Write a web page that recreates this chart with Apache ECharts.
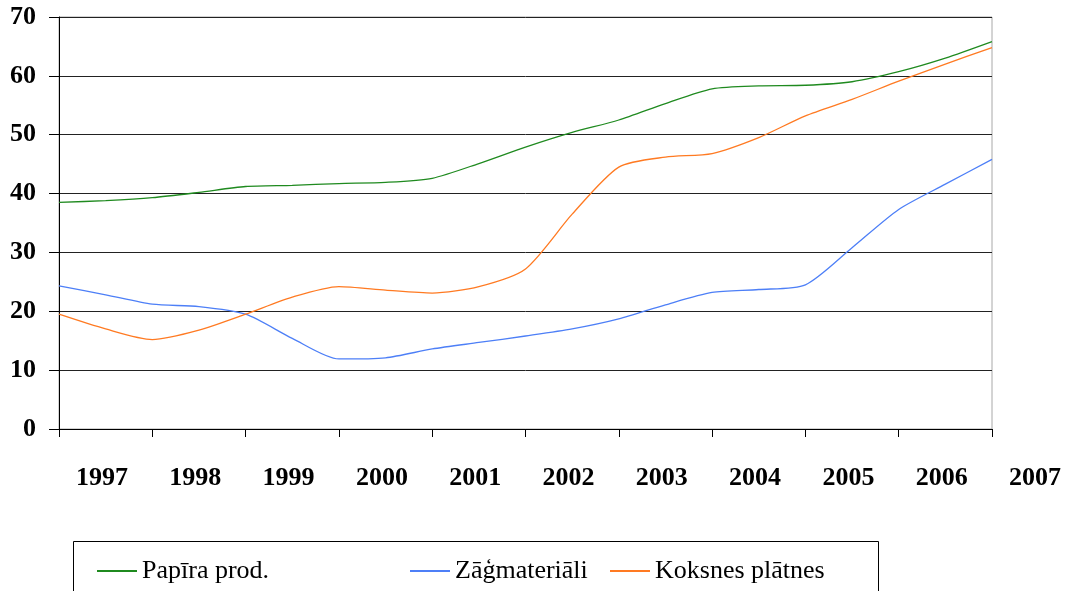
<!DOCTYPE html>
<html>
<head>
<meta charset="utf-8">
<script src="https://cdn.jsdelivr.net/npm/echarts@6/dist/echarts.min.js"></script>
<style>
  html, body { margin: 0; padding: 0; background: #fff; }
  #chart { width: 1066px; height: 591px; }
</style>
</head>
<body>
<div id="chart"></div>
<script>
// Year labels on the horizontal axis
const yearLabels = ['1997', '1998', '1999', '2000', '2001', '2002', '2003', '2004', '2005', '2006', '2007'];
// Half-year observation points
const periods = [1997, 1997.5, 1998, 1998.5, 1999, 1999.5, 2000, 2000.5, 2001, 2001.5,
                 2002, 2002.5, 2003, 2003.5, 2004, 2004.5, 2005, 2005.5, 2006, 2006.5, 2007];
// Series values
const papiraProd = [38.5, 38.8, 39.3, 40.2, 41.2, 41.4, 41.7, 41.9, 42.6, 45.1,
                    47.9, 50.4, 52.5, 55.3, 57.8, 58.3, 58.4, 59.0, 60.7, 63.0, 65.8];
const zagmateriali = [24.3, 22.8, 21.2, 20.8, 19.5, 15.4, 11.9, 12.1, 13.6, 14.7,
                      15.8, 17.0, 18.7, 21.1, 23.2, 23.7, 24.5, 30.8, 37.3, 41.6, 45.8];
const koksnesPlatnes = [19.5, 17.0, 15.2, 16.8, 19.5, 22.4, 24.2, 23.6, 23.1, 24.2,
                        27.2, 36.5, 44.5, 46.2, 46.8, 49.5, 53.2, 56.0, 59.1, 62.0, 64.8];
const yTicks = [0, 10, 20, 30, 40, 50, 60, 70];

const seriesNames = ['Papīra prod.', 'Zāģmateriāli', 'Koksnes plātnes'];
const seriesColors = ['#1f8a1f', '#4d7ff7', '#ff7a22'];
const seriesValues = [papiraProd, zagmateriali, koksnesPlatnes];

const serif = '"Liberation Serif", "Times New Roman", serif';

const chart = echarts.init(document.getElementById('chart'), null, { renderer: 'canvas' });

// left offsets of the three legend entries inside the legend box
const legendLefts = [92, 405, 605];

chart.setOption({
  animation: false,
  backgroundColor: '#ffffff',
  grid: {
    left: 59, top: 17, right: 74, bottom: 162,
    show: true, borderColor: '#a8a8a8', borderWidth: 1, backgroundColor: 'transparent'
  },
  xAxis: {
    type: 'value',
    min: 1997, max: 2007, interval: 1,
    axisLine: { show: true, lineStyle: { color: '#000', width: 1 } },
    axisTick: { show: true, length: 8, lineStyle: { color: '#000' } },
    splitLine: { show: false },
    axisLabel: {
      margin: 36,
      fontFamily: serif, fontWeight: 'bold', fontSize: 26, color: '#000',
      align: 'center',
      padding: [0, 0, 0, 86],
      formatter: function (v) { return yearLabels[Math.round(v - 1997)]; }
    }
  },
  yAxis: {
    type: 'value',
    min: yTicks[0], max: yTicks[yTicks.length - 1], interval: 10,
    axisLine: { show: true, lineStyle: { color: '#000', width: 1 } },
    axisTick: { show: true, length: 10, lineStyle: { color: '#000' } },
    splitLine: { show: true, lineStyle: { color: '#222', width: 1 } },
    axisLabel: {
      margin: 23,
      fontFamily: serif, fontWeight: 'bold', fontSize: 26, color: '#000'
    }
  },
  legend: seriesNames.map(function (name, i) {
    return {
      data: [name],
      left: legendLefts[i], top: 553,
      orient: 'horizontal',
      icon: 'rect', itemWidth: 40, itemHeight: 2, itemGap: 5,
      textStyle: { fontFamily: serif, fontSize: 26, color: '#000' },
      selectedMode: false
    };
  }),
  graphic: [{
    type: 'rect',
    shape: { x: 73.5, y: 541.5, width: 805, height: 80 },
    style: { fill: 'none', stroke: '#000', lineWidth: 1 },
    silent: true
  }],
  series: seriesNames.map(function (name, i) {
    return {
      name: name,
      type: 'line',
      smooth: 0.25,
      symbol: 'none',
      color: seriesColors[i],
      lineStyle: { color: seriesColors[i], width: 1.3 },
      data: periods.map(function (p, k) { return [p, seriesValues[i][k]]; })
    };
  })
});
</script>
</body>
</html>
